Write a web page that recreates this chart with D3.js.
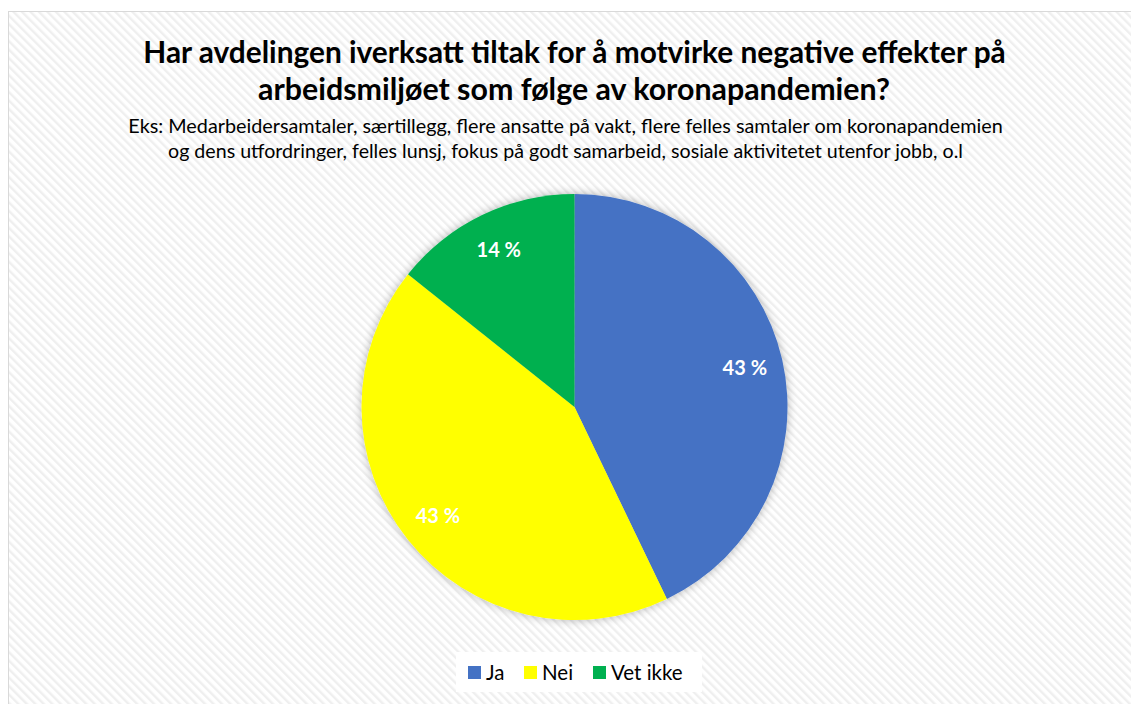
<!DOCTYPE html>
<html>
<head>
<meta charset="utf-8">
<script src="https://cdn.jsdelivr.net/npm/d3@7"></script>
<style>
  html, body { margin: 0; padding: 0; background: #fff; }
  svg { display: block; }
</style>
</head>
<body>
<svg id="chart" width="1131" height="704"></svg>
<script>
// ---- data ----
const categories = ["Ja", "Nei", "Vet ikke"];
const values = [42.86, 42.86, 14.28];
const labels = ["43 %", "43 %", "14 %"];
const colors = ["#4472C4", "#FFFF00", "#00B050"];
const titleLines = [
  "Har avdelingen iverksatt tiltak for å motvirke negative effekter på",
  "arbeidsmiljøet som følge av koronapandemien?"
];
const subtitleLines = [
  "Eks: Medarbeidersamtaler, særtillegg, flere ansatte på vakt, flere felles samtaler om koronapandemien",
  "og dens utfordringer, felles lunsj, fokus på godt samarbeid, sosiale aktivitetet utenfor jobb, o.l"
];

const W = 1131, H = 704;
const svg = d3.select("#chart");
const defs = svg.append("defs");

// stripe pattern background
const pat = defs.append("pattern")
  .attr("id", "stripes").attr("patternUnits", "userSpaceOnUse")
  .attr("width", 6).attr("height", 6)
  .attr("patternTransform", "rotate(-45)");
pat.append("rect").attr("width", 6).attr("height", 6).attr("fill", "#ffffff");
pat.append("rect").attr("width", 2.4).attr("height", 6).attr("fill", "#efefef");

const shadow = defs.append("filter").attr("id", "shadow")
  .attr("x", "-20%").attr("y", "-20%").attr("width", "140%").attr("height", "140%");
shadow.append("feGaussianBlur").attr("in", "SourceAlpha").attr("stdDeviation", 5).attr("result", "b");
shadow.append("feOffset").attr("in", "b").attr("dx", 0).attr("dy", 0).attr("result", "o");
shadow.append("feComponentTransfer").attr("in", "o").attr("result", "s")
  .append("feFuncA").attr("type", "linear").attr("slope", 0.3);
const fm = shadow.append("feMerge");
fm.append("feMergeNode").attr("in", "s");
fm.append("feMergeNode").attr("in", "SourceGraphic");

// chart area
svg.append("rect").attr("x", 8.5).attr("y", 11.5).attr("width", W).attr("height", H)
  .attr("fill", "url(#stripes)").attr("stroke", "#d9d9d9").attr("stroke-width", 1);

// helper: fit text to a target width
function fitText(sel, targetWidth) {
  const node = sel.node();
  const w = node.getComputedTextLength();
  const fs = parseFloat(sel.attr("font-size"));
  sel.attr("font-size", fs * targetWidth / w);
}

const cx = 574.5, cy = 407, R = 213;

// title
const titleFont = "Lato, 'Open Sans', sans-serif";
const tY = [63, 100], tW = [863, 632], tX = [574.5, 574];
titleLines.forEach((t, i) => {
  const s = svg.append("text").attr("x", tX[i]).attr("y", tY[i])
    .attr("text-anchor", "middle").attr("font-family", titleFont)
    .attr("font-weight", "bold").attr("font-size", 26).attr("fill", "#000")
    .text(t);
  fitText(s, tW[i]);
});
const sY = [133, 158], sW = [875, 795], sX = [565.5, 565.5];
subtitleLines.forEach((t, i) => {
  const s = svg.append("text").attr("x", sX[i]).attr("y", sY[i])
    .attr("text-anchor", "middle").attr("font-family", titleFont)
    .attr("font-size", 18).attr("fill", "#000")
    .text(t);
  fitText(s, sW[i]);
});

// pie
const pie = d3.pie().sort(null).value(d => d)(values);
const arc = d3.arc().innerRadius(0).outerRadius(R);
const labelArc = d3.arc().innerRadius(R * 0.82).outerRadius(R * 0.82);
const g = svg.append("g").attr("transform", `translate(${cx},${cy})`);
g.append("g").attr("filter", "url(#shadow)")
  .selectAll("path").data(pie).join("path")
  .attr("d", arc).attr("fill", (d, i) => colors[i]);
g.selectAll("text.lbl").data(pie).join("text").attr("class", "lbl")
  .attr("transform", d => `translate(${labelArc.centroid(d)})`)
  .attr("text-anchor", "middle").attr("dy", "0.35em")
  .attr("font-family", titleFont).attr("font-weight", "bold")
  .attr("font-size", 20).attr("fill", "#fff")
  .text((d, i) => labels[i]);

// legend
const lg = svg.append("g");
lg.append("rect").attr("x", 456).attr("y", 652).attr("width", 246).attr("height", 40)
  .attr("fill", "#fff");
const legX = [468, 524, 593];
categories.forEach((c, i) => {
  lg.append("rect").attr("x", legX[i]).attr("y", 666).attr("width", 13).attr("height", 13)
    .attr("fill", colors[i]);
  lg.append("text").attr("x", legX[i] + 18).attr("y", 680)
    .attr("font-family", titleFont).attr("font-size", 20.5).attr("fill", "#000")
    .text(c);
});
</script>
</body>
</html>
